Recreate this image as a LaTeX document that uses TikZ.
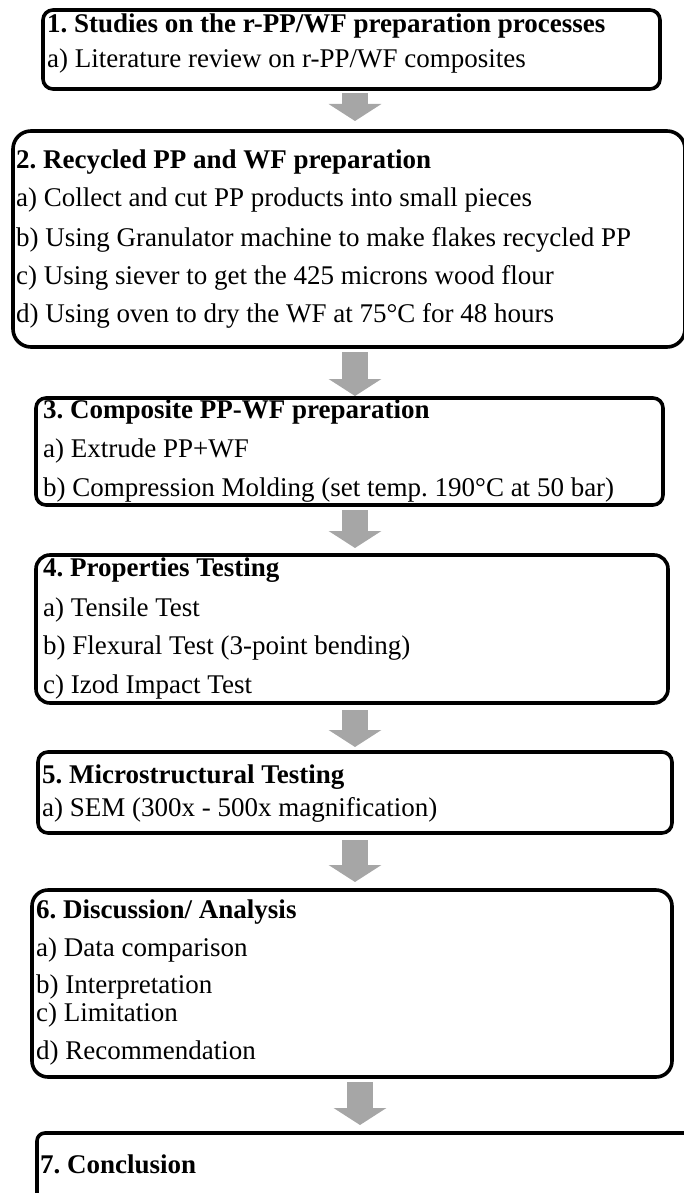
\documentclass[tikz,border=0pt]{standalone}
\usepackage{fontspec}
\setmainfont{Liberation Serif}
\usetikzlibrary{arrows.meta}
\definecolor{arrowgray}{HTML}{A6A6A6}
\frenchspacing

\begin{document}
\begin{tikzpicture}[x=1pt,y=-1pt,
  box/.style={draw,line width=3.6pt,anchor=north west,outer sep=0pt,inner sep=0pt},
  txt/.style={anchor=west,inner sep=0pt,text height=18pt,text depth=6pt,font=\fontsize{27}{32}\selectfont},
  flow/.style={draw=arrowgray,line width=26pt,-{Triangle[length=17pt,width=52pt]}}]
\useasboundingbox (0,0) rectangle (684,1193);

% Boxes of the seven stages
\node[box,rounded corners=10pt,minimum width=617pt,minimum height=79pt] (b1) at (43,10) {};
\node[box,rounded corners=18pt,minimum width=672pt,minimum height=216pt] (b2) at (13,131) {};
\node[box,rounded corners=10pt,minimum width=627pt,minimum height=107pt] (b3) at (36,398) {};
\node[box,rounded corners=14pt,minimum width=632pt,minimum height=148pt] (b4) at (36,555) {};
\node[box,rounded corners=10pt,minimum width=634pt,minimum height=81pt] (b5) at (38,752) {};
\node[box,rounded corners=16pt,minimum width=640pt,minimum height=187pt] (b6) at (32,890) {};
\node[box,rounded corners=8pt,minimum width=670pt,minimum height=120pt] (b7) at (37,1133) {};

% Text of each stage
\node[txt] (t1) at (47,27) {\textbf{1. Studies on the r-PP/WF preparation processes}};
\node[txt] (t1a) at (47,62) {a) Literature review on r-PP/WF composites};

\node[txt] (t2) at (16,162) {\textbf{2. Recycled PP and WF preparation}};
\node[txt] (t2a) at (16,201) {a) Collect and cut PP products into small pieces};
\node[txt] (t2b) at (16,240) {b) Using Granulator machine to make flakes recycled PP};
\node[txt] (t2c) at (16,278) {c) Using siever to get the 425 microns wood flour};
\node[txt] (t2d) at (16,316) {d) Using oven to dry the WF at 75°C for 48 hours};

\node[txt] (t3) at (43,412) {\textbf{3. Composite PP-WF preparation}};
\node[txt] (t3a) at (43,451) {a) Extrude PP+WF};
\node[txt] (t3b) at (43,490) {b) Compression Molding (set temp. 190°C at 50 bar)};

\node[txt] (t4) at (43,570) {\textbf{4. Properties Testing}};
\node[txt] (t4a) at (43,610) {a) Tensile Test};
\node[txt] (t4b) at (43,648) {b) Flexural Test (3-point bending)};
\node[txt] (t4c) at (43,687) {c) Izod Impact Test};

\node[txt] (t5) at (42,777) {\textbf{5. Microstructural Testing}};
\node[txt] (t5a) at (42,810) {a) SEM (300x - 500x magnification)};

\node[txt] (t6) at (36,912) {\textbf{6. Discussion/ Analysis}};
\node[txt] (t6a) at (36,950) {a) Data comparison};
\node[txt] (t6b) at (36,987) {b) Interpretation};
\node[txt] (t6c) at (36,1015) {c) Limitation};
\node[txt] (t6d) at (36,1053) {d) Recommendation};

\node[txt] (t7) at (40,1167) {\textbf{7. Conclusion}};

% Grey block arrows between stages
\coordinate (ax) at (355,0);
\coordinate (bx) at (360,0);
\draw[flow,shorten <=4pt,shorten >=10pt] (b1.south -| ax) -- (b2.north -| ax);
\draw[flow,shorten <=5pt,shorten >=2pt] (b2.south -| ax) -- (b3.north -| ax);
\draw[flow,shorten <=5pt,shorten >=7pt] (b3.south -| ax) -- (b4.north -| ax);
\draw[flow,shorten <=7pt,shorten >=5pt] (b4.south -| ax) -- (b5.north -| ax);
\draw[flow,shorten <=7pt,shorten >=8pt] (b5.south -| ax) -- (b6.north -| ax);
\draw[flow,shorten <=5pt,shorten >=8pt] (b6.south -| bx) -- (b7.north -| bx);

\end{tikzpicture}
\end{document}
